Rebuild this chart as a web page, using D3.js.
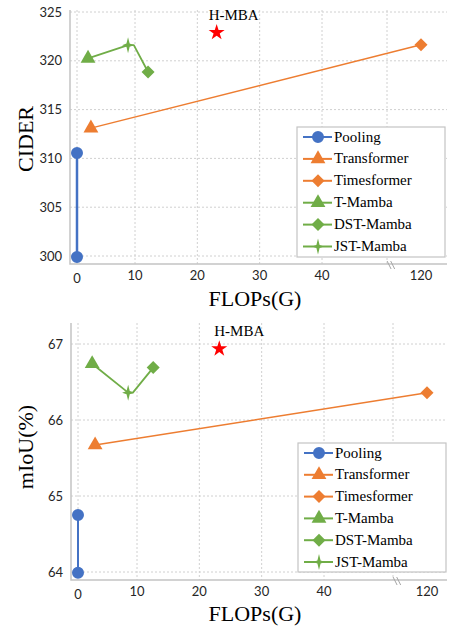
<!DOCTYPE html>
<html>
<head>
<meta charset="utf-8">
<script src="https://cdn.jsdelivr.net/npm/d3@7"></script>
<style>
  html, body { margin: 0; padding: 0; background: #fff; }
  svg { display: block; }
  .tick-label { font-family: Lato, "Liberation Sans", sans-serif; font-size: 13px; fill: #262626; }
  .serif { font-family: "Liberation Serif", "Times New Roman", serif; fill: #000; }
  .grid { stroke: #d0d0d0; stroke-width: 1; stroke-dasharray: 2,2; fill: none; }
  .frame { stroke: #c4c4c4; stroke-width: 1.5; fill: none; }
</style>
</head>
<body>
<svg id="chart" width="455" height="626"></svg>
<script>
// ---- data ----
const seriesNames = ['Pooling', 'Transformer', 'Timesformer', 'T-Mamba', 'DST-Mamba', 'JST-Mamba'];
const seriesColors = ['#4472c4', '#ed7d31', '#ed7d31', '#70ad47', '#70ad47', '#70ad47'];
const seriesShapes = ['circle', 'triangle', 'diamond', 'triangle', 'diamond', 'cross'];

const flopsTicks = [0, 10, 20, 30, 40, 120];
const flopsGrid = [0, 10, 20, 30, 40, 50];
const flopsBreak = 58;

// CIDEr (top panel)
const ciderTicks = [300, 305, 310, 315, 320, 325];
const ciderPoints = [
    ['Pooling', 0, 310.55],
    ['Pooling', 0, 299.9],
    ['Transformer', 2.4, 313.1],
    ['Timesformer', 120, 321.65],
    ['T-Mamba', 1.9, 320.25],
    ['DST-Mamba', 12.1, 318.85],
    ['JST-Mamba', 8.8, 321.6]
];
const ciderBlueLine = [[0, 310.55], [0, 299.9]];
const ciderOrangeLine = [[2.4, 313.1], [120, 321.65]];
const ciderGreenLine = [[1.9, 320.25], [8.8, 321.6], [9.8, 321.6], [12.1, 318.85]];
const ciderHmba = [23.1, 323.0];

// mIoU (bottom panel)
const miouTicks = [64, 65, 66, 67];
const miouPoints = [
    ['Pooling', 0, 64.75],
    ['Pooling', 0, 63.99],
    ['Transformer', 2.9, 65.67],
    ['Timesformer', 120, 66.36],
    ['T-Mamba', 2.4, 66.74],
    ['DST-Mamba', 12.6, 66.69],
    ['JST-Mamba', 8.5, 66.36]
];
const miouBlueLine = [[0, 64.75], [0, 63.99]];
const miouOrangeLine = [[2.9, 65.67], [120, 66.36]];
const miouGreenLine = [[2.4, 66.74], [8.5, 66.36], [9.3, 66.36], [12.6, 66.69]];
const miouHmba = [23.2, 66.95];

const Chart = (() => {
    const svg = d3.select('#chart');

    // marker shapes, centred on 0,0
    const shapePaths = {
        circle: d3.symbol(d3.symbolCircle, 113)(),
        triangle: d3.symbol(d3.symbolTriangle, 95)(),
        diamond: 'M0,-6.5L6.5,0L0,6.5L-6.5,0Z',
        cross: 'M0,-8L1.6,-1.6L6,0L1.6,1.6L0,8L-1.6,1.6L-6,0L-1.6,-1.6Z'
    };
    const colorOf = name => seriesColors[seriesNames.indexOf(name)];
    const shapeOf = name => shapePaths[seriesShapes[seriesNames.indexOf(name)]];

    /**
     * Draw one panel
     * @param {Object} cfg - layout + data for the panel
     */
    const drawPanel = cfg => {
        const g = svg.append('g');

        const x = d3.scaleLinear()
            .domain([0, 10, 40, 50, 120])
            .range(cfg.xRange);
        const y = d3.scaleLinear()
            .domain(cfg.yDomain)
            .range(cfg.yRange);

        // grid
        g.selectAll('.hgrid')
            .data(cfg.yTicks)
            .enter()
            .append('line')
            .attr('class', 'grid')
            .attr('x1', cfg.left)
            .attr('x2', cfg.right)
            .attr('y1', d => y(d))
            .attr('y2', d => y(d));

        g.selectAll('.vgrid')
            .data(flopsGrid)
            .enter()
            .append('line')
            .attr('class', 'grid')
            .attr('x1', d => x(d))
            .attr('x2', d => x(d))
            .attr('y1', cfg.top)
            .attr('y2', cfg.bottom);

        // axis frame (left + bottom)
        g.append('path')
            .attr('class', 'frame')
            .attr('d', `M${cfg.left},${cfg.top}V${cfg.bottom}H${cfg.right}`);

        // axis break mark
        const bx = x(flopsBreak);
        [-1.8, 1.8].forEach(off => {
            g.append('line')
                .attr('x1', bx + off - 2)
                .attr('y1', cfg.bottom - 3)
                .attr('x2', bx + off + 2)
                .attr('y2', cfg.bottom + 5)
                .attr('stroke', '#a6a6a6')
                .attr('stroke-width', 1);
        });

        // tick labels
        g.selectAll('.ylab')
            .data(cfg.yTicks)
            .enter()
            .append('text')
            .attr('class', 'tick-label')
            .attr('x', cfg.left - 8)
            .attr('y', d => y(d))
            .attr('dy', '0.35em')
            .attr('text-anchor', 'end')
            .text(d => d);

        g.selectAll('.xlab')
            .data(flopsTicks)
            .enter()
            .append('text')
            .attr('class', 'tick-label')
            .attr('x', d => x(d))
            .attr('y', d => cfg.bottom + (d === 0 ? 19 : 16))
            .attr('text-anchor', 'middle')
            .text(d => d);

        // axis titles
        g.append('text')
            .attr('class', 'serif')
            .attr('font-size', 22)
            .attr('text-anchor', 'middle')
            .attr('transform', `translate(33,${cfg.yTitleY}) rotate(-90)`)
            .text(cfg.yTitle);

        g.append('text')
            .attr('class', 'serif')
            .attr('font-size', 22)
            .attr('text-anchor', 'middle')
            .attr('x', 255)
            .attr('y', cfg.xTitleY)
            .text('FLOPs(G)');

        // lines
        const line = d3.line().x(d => x(d[0])).y(d => y(d[1]));
        cfg.lines.forEach(l => {
            g.append('path')
                .attr('d', line(l.data))
                .attr('fill', 'none')
                .attr('stroke', l.color)
                .attr('stroke-width', l.width)
                .attr('stroke-linejoin', 'round');
        });

        // markers
        g.selectAll('.marker')
            .data(cfg.points)
            .enter()
            .append('path')
            .attr('d', d => shapeOf(d[0]))
            .attr('fill', d => colorOf(d[0]))
            .attr('transform', d => `translate(${x(d[1])},${y(d[2])})`);

        // H-MBA star + label
        const sx = x(cfg.hmba[0]);
        const sy = y(cfg.hmba[1]);
        g.append('path')
            .attr('d', d3.symbol(d3.symbolStar, 80)())
            .attr('fill', '#ff0000')
            .attr('transform', `translate(${sx},${sy + 1})`);
        g.append('text')
            .attr('class', 'serif')
            .attr('font-size', 15)
            .attr('text-anchor', 'middle')
            .attr('x', sx + cfg.labelDx)
            .attr('y', sy - 12)
            .text('H-MBA');

        // legend
        const lg = g.append('g')
            .attr('transform', `translate(${cfg.legend[0]},${cfg.legend[1]})`);
        lg.append('rect')
            .attr('width', 148)
            .attr('height', cfg.legend[2])
            .attr('fill', '#fff')
            .attr('stroke', '#c4c4c4')
            .attr('stroke-width', 1.2);

        const rows = lg.selectAll('.row')
            .data(seriesNames)
            .enter()
            .append('g')
            .attr('transform', (d, i) => `translate(0,${10 + i * cfg.legendStep})`);
        rows.append('line')
            .attr('x1', 6)
            .attr('x2', 35)
            .attr('stroke', d => colorOf(d))
            .attr('stroke-width', 2);
        rows.append('path')
            .attr('d', d => shapeOf(d))
            .attr('fill', d => colorOf(d))
            .attr('transform', 'translate(21,0)');
        rows.append('text')
            .attr('class', 'serif')
            .attr('font-size', 15)
            .attr('x', 37)
            .attr('y', 0)
            .attr('dy', '0.3em')
            .text(d => d);
    };

    const render = () => {
        drawPanel({
            left: 70, right: 447, top: 10, bottom: 264,
            xRange: [77, 135, 322, 387, 421],
            yDomain: [300, 325], yRange: [256, 12],
            yTicks: ciderTicks,
            yTitle: 'CIDER', yTitleY: 139, xTitleY: 306,
            points: ciderPoints,
            lines: [
                { data: ciderBlueLine, color: '#4472c4', width: 2.5 },
                { data: ciderOrangeLine, color: '#ed7d31', width: 1.5 },
                { data: ciderGreenLine, color: '#70ad47', width: 1.8 }
            ],
            hmba: ciderHmba, labelDx: 17,
            legend: [297, 127, 130], legendStep: 21.9
        });

        drawPanel({
            left: 71, right: 447, top: 323, bottom: 580,
            xRange: [78, 137, 324, 393, 427],
            yDomain: [64, 67], yRange: [572, 344],
            yTicks: miouTicks,
            yTitle: 'mIoU(%)', yTitleY: 447, xTitleY: 621,
            points: miouPoints,
            lines: [
                { data: miouBlueLine, color: '#4472c4', width: 2 },
                { data: miouOrangeLine, color: '#ed7d31', width: 1.5 },
                { data: miouGreenLine, color: '#70ad47', width: 1.8 }
            ],
            hmba: miouHmba, labelDx: 20,
            legend: [298, 443, 129], legendStep: 21.8
        });
    };

    return { render };
})();

Chart.render();
</script>
</body>
</html>
